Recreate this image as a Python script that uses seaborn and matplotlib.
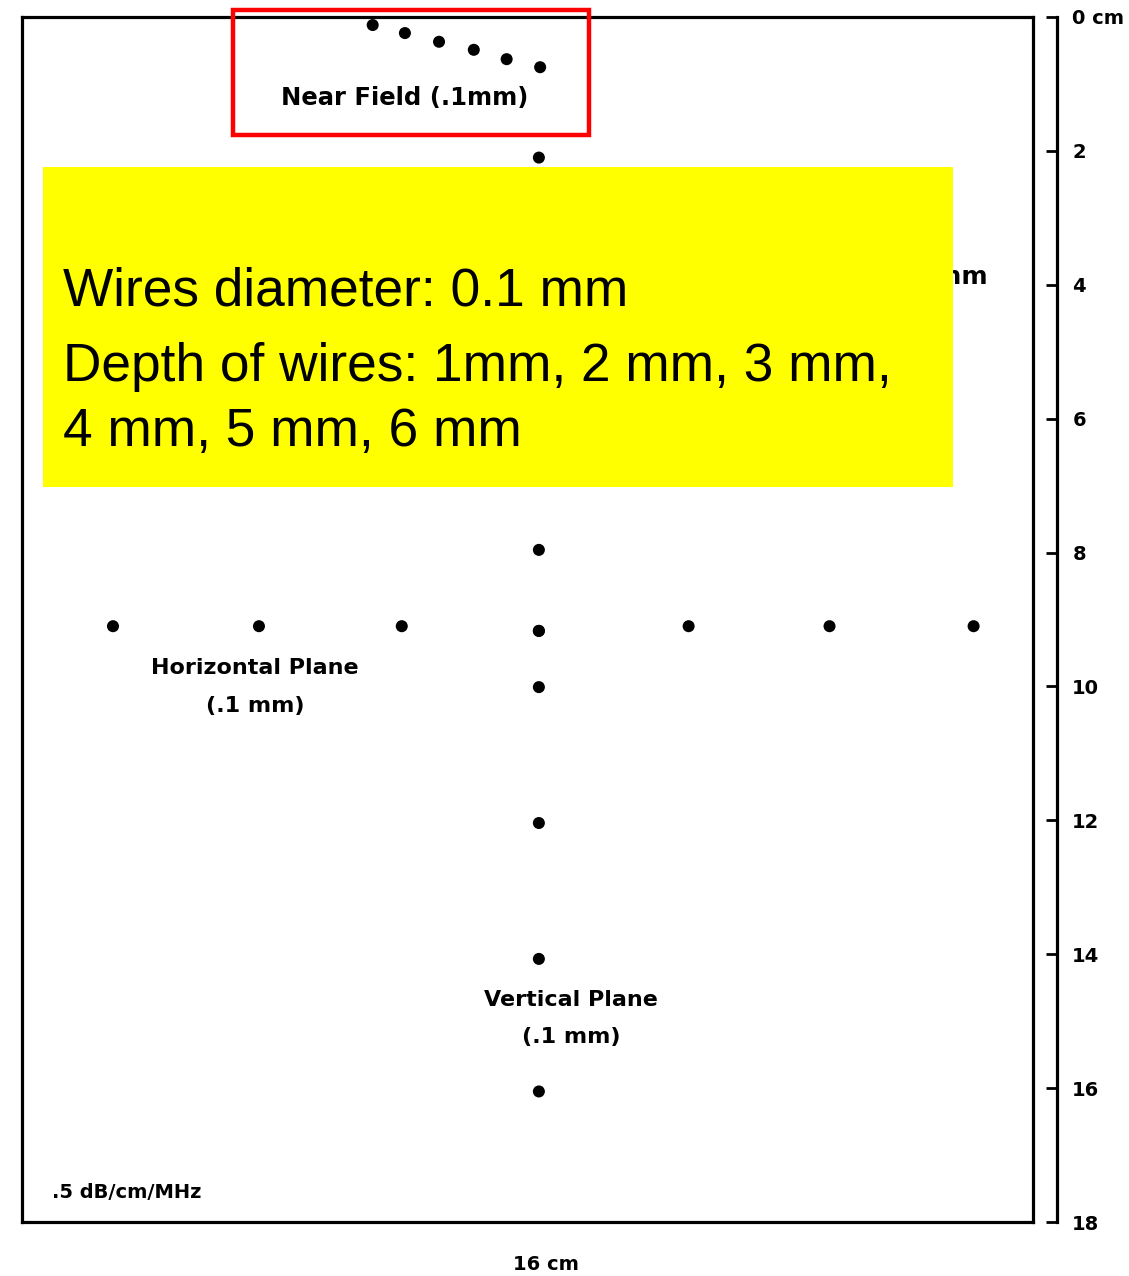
import matplotlib
matplotlib.use("Agg")
import matplotlib.pyplot as plt
import seaborn as sns
import pandas as pd
from matplotlib.patches import Rectangle

# ---- data (cm) ----
near_x = [5.55, 6.06, 6.60, 7.15, 7.67, 8.20]
near_y = [0.12, 0.24, 0.37, 0.49, 0.63, 0.75]

horiz_x = [1.44, 3.75, 6.01, 8.18, 10.55, 12.78, 15.06]
horiz_y = [9.10, 9.10, 9.10, 9.17, 9.10, 9.10, 9.10]

vert_x = [8.18, 8.18, 8.18, 8.18, 8.18, 8.18, 8.18]
vert_y = [2.10, 7.96, 9.17, 10.01, 12.04, 14.07, 16.05]

depth_ticks = [0, 2, 4, 6, 8, 10, 12, 14, 16, 18]
depth_labels = ["0 cm", "2", "4", "6", "8", "10", "12", "14", "16", "18"]

info_lines = ["Wires diameter: 0.1 mm",
              "Depth of wires: 1mm, 2 mm, 3 mm,",
              "4 mm, 5 mm, 6 mm"]

sns.set_style("white")
plt.rcParams['font.family'] = ['DejaVu Sans']
plt.rcParams['text.color'] = 'black'

W, H = 1129, 1276
fig = plt.figure(figsize=(W / 100, H / 100), dpi=100)


def fx(px):
    return px / W


def fy(py):
    return 1 - py / H


# main box
box_l, box_r, box_t, box_b = 22, 1033, 17, 1222
ax = fig.add_axes([fx(box_l), fy(box_b), (box_r - box_l) / W, (box_b - box_t) / H])
ax.set_xlim(0, 16)
ax.set_ylim(18, 0)
ax.set_xticks([])
ax.set_yticks([])
for sp in ax.spines.values():
    sp.set_visible(True)
    sp.set_color("black")
    sp.set_linewidth(2.3)

groups = [(near_x, near_y), (horiz_x, horiz_y), (vert_x, vert_y)]
for gx, gy in groups:
    df = pd.DataFrame({"x": gx, "y": gy})
    sns.scatterplot(data=df, x="x", y="y", ax=ax, color="black", s=75,
                    edgecolor="none", legend=False, zorder=3, clip_on=False)
ax.set_xlabel("")
ax.set_ylabel("")

lab_kw = dict(fontweight="bold", color="black",
              transform=fig.transFigure, ha="center", va="center")
ax.text(fx(405), fy(98), "Near Field (.1mm)", fontsize=17.5, zorder=4, **lab_kw)
ax.text(fx(255), fy(668), "Horizontal Plane", fontsize=16, zorder=4, **lab_kw)
ax.text(fx(255), fy(706), "(.1 mm)", fontsize=16, zorder=4, **lab_kw)
ax.text(fx(571), fy(1000), "Vertical Plane", fontsize=16, zorder=4, **lab_kw)
ax.text(fx(571), fy(1037), "(.1 mm)", fontsize=16, zorder=4, **lab_kw)
ax.text(fx(988), fy(277), "4 mm", fontsize=18, fontweight="bold", color="black",
        transform=fig.transFigure, ha="right", va="center", zorder=2)
ax.text(fx(52), fy(1193), ".5 dB/cm/MHz", fontsize=14, fontweight="bold",
        color="black", transform=fig.transFigure, ha="left", va="center")
fig.text(fx(546), fy(1265), "16 cm", fontsize=14, fontweight="bold",
         color="black", ha="center", va="center")

# red highlight rectangle
ax.add_patch(Rectangle((fx(233), fy(135)), fx(589) - fx(233), fy(10) - fy(135),
                       transform=fig.transFigure, fill=False, edgecolor="#ff0000",
                       linewidth=3.2, clip_on=False, zorder=6))

# yellow info box
ax.add_patch(Rectangle((fx(43), fy(487)), fx(953) - fx(43), fy(167) - fy(487),
                       transform=fig.transFigure, facecolor="#ffff00",
                       edgecolor="none", clip_on=False, zorder=7))
baselines = [306, 381, 446]
for txt, bl in zip(info_lines, baselines):
    ax.text(fx(63), fy(bl), txt, transform=fig.transFigure, fontsize=38.3,
            family=["Liberation Sans", "DejaVu Sans"], ha="left",
            va="baseline", color="black", zorder=8)

# right depth axis
ax2 = fig.add_axes([fx(1000), fy(box_b), 57 / W, (box_b - box_t) / H])
ax2.patch.set_visible(False)
ax2.set_ylim(18, 0)
ax2.set_xticks([])
for name, sp in ax2.spines.items():
    sp.set_visible(name == "right")
ax2.spines["right"].set_linewidth(2.3)
ax2.spines["right"].set_color("black")
ax2.yaxis.set_ticks_position("right")
ax2.set_yticks(depth_ticks)
ax2.set_yticklabels(depth_labels)
ax2.tick_params(axis="y", direction="in", length=8, width=2, pad=11,
                labelsize=14, colors="black")
for t in ax2.get_yticklabels():
    t.set_fontweight("bold")

fig.savefig("out.png", dpi=100)
